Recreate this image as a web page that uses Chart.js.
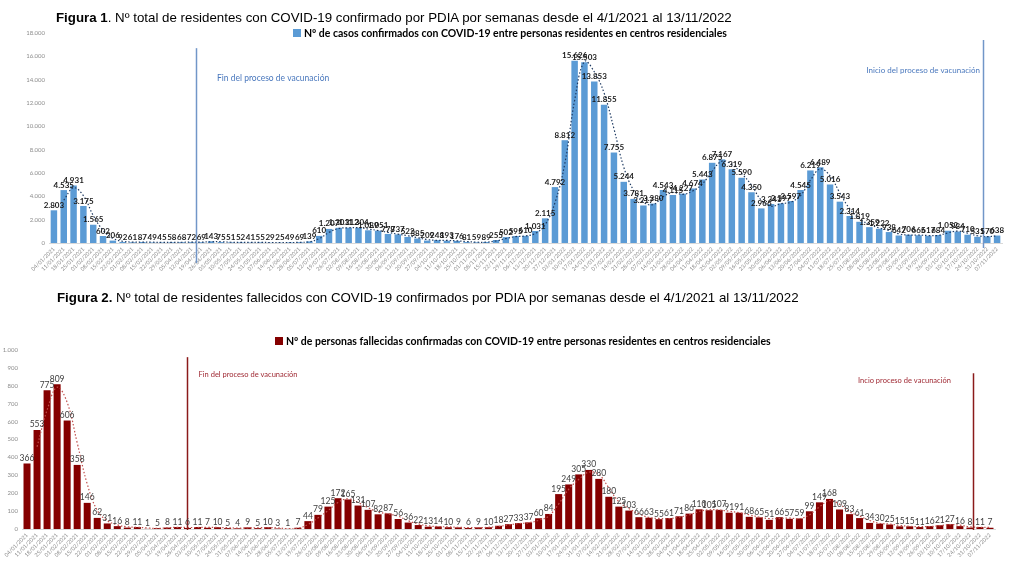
<!DOCTYPE html>
<html lang="es">
<head>
<meta charset="utf-8">
<title>Residentes con COVID-19 confirmado por PDIA</title>
<script src="https://cdn.jsdelivr.net/npm/chart.js@4.4.1/dist/chart.umd.min.js"></script>
<style>
  html, body { margin: 0; padding: 0; background: #fff; }
  body { width: 1011px; height: 574px; position: relative; overflow: hidden; font-family: 'Liberation Sans', Arial, sans-serif; }
  .box { position: absolute; left: 0; width: 1011px; }
  .fig-title { position: absolute; font-size: 13.3px; line-height: 16px; color: #000; white-space: nowrap; z-index: 2; }
  .legend { position: absolute; font-family: Lato, sans-serif; font-weight: bold; font-size: 10.5px; line-height: 12px; color: #000; white-space: nowrap; display: flex; align-items: center; z-index: 2; }
  .legend i { display: inline-block; width: 8px; height: 8px; margin-right: 3px; }
</style>
</head>
<body>

<div class="fig-title" style="left:56px; top:10px;"><b>Figura 1</b>. Nº total de residentes con COVID-19 confirmado por PDIA por semanas desde el 4/1/2021 al 13/11/2022</div>
<div class="legend" style="left:293px; top:27px;"><i style="background:#5b9bd5"></i>Nº de casos confirmados con COVID-19 entre personas residentes en centros residenciales</div>
<div class="box" style="top:0; height:290px;"><canvas id="casesChart"></canvas></div>

<div class="fig-title" style="left:57px; top:290px;"><b>Figura 2.</b> Nº total de residentes fallecidos con COVID-19 confirmados por PDIA por semanas desde el 4/1/2021 al 13/11/2022</div>
<div class="legend" style="left:275px; top:335px;"><i style="background:#850000"></i>Nº de personas fallecidas confirmadas con COVID-19 entre personas residentes en centros residenciales</div>
<div class="box" style="top:290px; height:284px;"><canvas id="deathsChart"></canvas></div>

<script>
// semanas (lunes)
const weeks = [
    '04/01/2021', '11/01/2021', '18/01/2021', '25/01/2021', '01/02/2021', '08/02/2021', '15/02/2021', '22/02/2021',
    '01/03/2021', '08/03/2021', '15/03/2021', '22/03/2021', '29/03/2021', '05/04/2021', '12/04/2021', '19/04/2021',
    '26/04/2021', '03/05/2021', '10/05/2021', '17/05/2021', '24/05/2021', '31/05/2021', '07/06/2021', '14/06/2021',
    '21/06/2021', '28/06/2021', '05/07/2021', '12/07/2021', '19/07/2021', '26/07/2021', '02/08/2021', '09/08/2021',
    '16/08/2021', '23/08/2021', '30/08/2021', '06/09/2021', '13/09/2021', '20/09/2021', '27/09/2021', '04/10/2021',
    '11/10/2021', '18/10/2021', '25/10/2021', '01/11/2021', '08/11/2021', '15/11/2021', '22/11/2021', '29/11/2021',
    '06/12/2021', '13/12/2021', '20/12/2021', '27/12/2021', '03/01/2022', '10/01/2022', '17/01/2022', '24/01/2022',
    '31/01/2022', '07/02/2022', '14/02/2022', '21/02/2022', '28/02/2022', '07/03/2022', '14/03/2022', '21/03/2022',
    '28/03/2022', '04/04/2022', '11/04/2022', '18/04/2022', '25/04/2022', '02/05/2022', '09/05/2022', '16/05/2022',
    '23/05/2022', '30/05/2022', '06/06/2022', '13/06/2022', '20/06/2022', '27/06/2022', '04/07/2022', '11/07/2022',
    '18/07/2022', '25/07/2022', '01/08/2022', '08/08/2022', '15/08/2022', '22/08/2022', '29/08/2022', '05/09/2022',
    '12/09/2022', '19/09/2022', '26/09/2022', '03/10/2022', '10/10/2022', '17/10/2022', '24/10/2022', '31/10/2022',
    '07/11/2022'
];

const cases = [
    2803, 4535, 4931, 3175, 1565, 602, 206, 92, 61, 87, 49, 45, 58, 68, 72, 69,
    143, 75, 51, 52, 41, 55, 29, 25, 49, 69, 139, 610, 1207, 1301, 1312, 1304,
    1089, 1051, 778, 737, 522, 385, 209, 248, 193, 176, 81, 59, 89, 255, 502, 595,
    610, 1031, 2115, 4792, 8812, 15626, 15503, 13853, 11855, 7755, 5244, 3781, 3217, 3380,
    4543, 4115, 4227, 4674, 5443, 6875, 7167, 6319, 5590, 4350, 2966, 3341, 3397, 3597,
    4545, 6219, 6489, 5016, 3543, 2314, 1819, 1359, 1222, 938, 642, 706, 665, 617,
    684, 1052, 984, 710, 531, 570, 638
];

const deaths = [
    366, 553, 775, 809, 606, 358, 146, 62, 31, 16, 8, 11, 1, 5, 8, 11,
    6, 11, 7, 10, 5, 4, 9, 5, 10, 3, 1, 7, 44, 79, 125, 172,
    165, 131, 107, 82, 87, 56, 36, 22, 13, 14, 10, 9, 6, 9, 10, 18,
    27, 33, 37, 60, 84, 195, 249, 305, 330, 280, 180, 125, 103, 66, 63, 55,
    61, 71, 86, 110, 105, 107, 91, 91, 68, 65, 51, 66, 57, 59, 99, 149,
    168, 109, 83, 61, 34, 30, 25, 15, 15, 11, 16, 21, 27, 16, 8, 11,
    7
];

const casesYTicks = [0, 2000, 4000, 6000, 8000, 10000, 12000, 14000, 16000, 18000];
const deathsYTicks = [0, 100, 200, 300, 400, 500, 600, 700, 800, 900, 1000];

// thousands with a dot, like the source
function fmt(v) {
    return String(v).replace(/\B(?=(\d{3})+(?!\d))/g, '.');
}

// excel-style 2 period moving average trendline
function movingAvg(arr) {
    return arr.map((v, i) => i === 0 ? null : (arr[i - 1] + v) / 2);
}

const extrasPlugin = {
    id: 'extras',
    afterDatasetsDraw(chart, args, o) {
        const { ctx, chartArea } = chart;
        const x = chart.scales.x, y = chart.scales.y;
        ctx.save();

        // vaccination markers
        ctx.strokeStyle = o.markerColor;
        ctx.lineWidth = 1.5;
        o.markers.forEach(m => {
            const px = Math.round(x.getPixelForValue(m.at)) + 0.5;
            ctx.beginPath();
            ctx.moveTo(px, y.getPixelForValue(m.top));
            ctx.lineTo(px, chartArea.bottom + m.below);
            ctx.stroke();
        });

        // notes
        ctx.fillStyle = o.noteColor;
        ctx.textAlign = 'left';
        ctx.textBaseline = 'middle';
        o.notes.forEach(n => {
            ctx.font = n.size + 'px Lato, sans-serif';
            ctx.fillText(n.text, x.getPixelForValue(n.at), y.getPixelForValue(n.y));
        });

        // value labels
        const meta = chart.getDatasetMeta(0);
        const data = chart.data.datasets[0].data;
        ctx.font = o.labelFont;
        ctx.fillStyle = o.labelColor;
        ctx.textAlign = 'center';
        ctx.textBaseline = 'bottom';
        meta.data.forEach((bar, i) => {
            ctx.fillText(fmt(data[i]), bar.x, bar.y - 1);
        });
        ctx.restore();
    }
};

function buildChart(id, cfg) {
    return new Chart(document.getElementById(id), {
        type: 'bar',
        data: {
            labels: weeks,
            datasets: [{
                data: cfg.values,
                backgroundColor: cfg.barColor,
                barPercentage: cfg.barPct,
                categoryPercentage: 1,
                order: 2
            }, {
                type: 'line',
                data: movingAvg(cfg.values),
                borderColor: cfg.trendColor,
                borderWidth: 1.2,
                borderDash: [1.5, 2],
                pointRadius: 0,
                tension: 0.4,
                fill: false,
                order: 1
            }]
        },
        options: {
            responsive: true,
            maintainAspectRatio: false,
            animation: false,
            layout: { padding: cfg.padding },
            plugins: {
                legend: { display: false },
                tooltip: { enabled: false },
                extras: cfg.extras
            },
            scales: {
                x: {
                    grid: { display: false, drawTicks: false },
                    border: { display: true, color: '#d9d9d9', width: 1 },
                    ticks: {
                        autoSkip: false,
                        minRotation: 45,
                        maxRotation: 45,
                        padding: 3,
                        color: '#8c8c8c',
                        font: { family: 'Lato', size: 5.5 }
                    },
                    afterFit(s) { s.height = cfg.xHeight; }
                },
                y: {
                    min: 0,
                    max: cfg.yTicks[cfg.yTicks.length - 1],
                    grid: { display: false, drawTicks: false },
                    border: { display: false },
                    ticks: {
                        padding: 4,
                        color: '#8c8c8c',
                        font: { family: 'Lato', size: 6 },
                        callback: v => fmt(v)
                    },
                    afterBuildTicks(s) { s.ticks = cfg.yTicks.map(v => ({ value: v })); },
                    afterFit(s) { s.width = cfg.yWidth; }
                }
            }
        },
        plugins: [extrasPlugin]
    });
}

document.addEventListener('DOMContentLoaded', () => {
    buildChart('casesChart', {
        values: cases,
        barColor: '#5b9bd5',
        barPct: 0.66,
        trendColor: '#1f3b63',
        yTicks: casesYTicks,
        padding: { top: 33, right: 9, left: 0, bottom: 0 },
        xHeight: 47,
        yWidth: 49,
        extras: {
            markerColor: '#7196c8',
            markers: [{ at: 14.5, top: 16700, below: 20 }, { at: 94.6, top: 17400, below: 5 }],
            noteColor: '#4a78bd',
            notes: [
                { text: 'Fin del proceso de vacunación', at: 16.6, y: 14150, size: 8.5 },
                { text: 'Inicio del proceso de vacunación', at: 82.7, y: 14750, size: 8 }
            ],
            labelFont: 'bold 8px Lato, sans-serif',
            labelColor: '#1a1a1a'
        }
    });

    buildChart('deathsChart', {
        values: deaths,
        barColor: '#850000',
        barPct: 0.7,
        trendColor: '#c0504d',
        yTicks: deathsYTicks,
        padding: { top: 60, right: 16, left: 0, bottom: 0 },
        xHeight: 45,
        yWidth: 22,
        extras: {
            markerColor: '#8b1a1a',
            markers: [{ at: 15.95, top: 960, below: 1 }, { at: 94.3, top: 870, below: 1 }],
            noteColor: '#a02b35',
            notes: [
                { text: 'Fin del proceso de vacunación', at: 17.1, y: 860, size: 7.5 },
                { text: 'Incio proceso de vacunación', at: 82.85, y: 827, size: 7.5 }
            ],
            labelFont: '8.5px Lato, sans-serif',
            labelColor: '#404040'
        }
    });
});
</script>
</body>
</html>
